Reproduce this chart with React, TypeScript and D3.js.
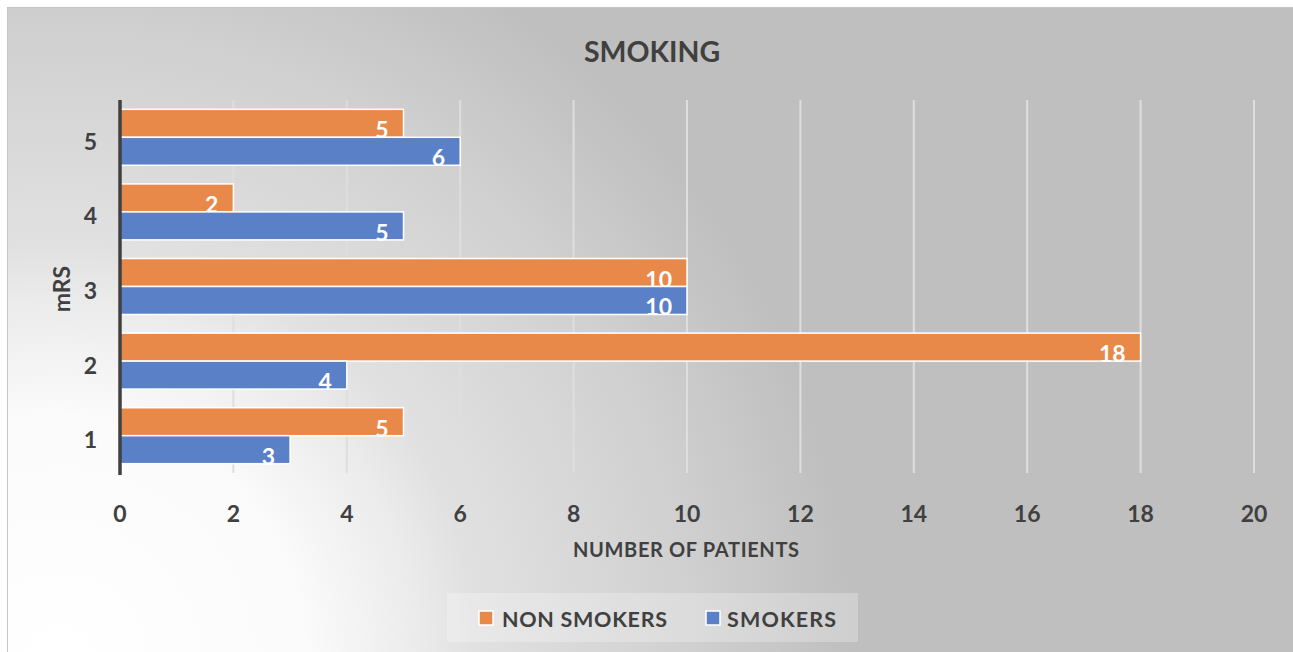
import React from "react";
import * as d3 from "d3";

const categories = ["5", "4", "3", "2", "1"];
const nonSmokers = [5, 2, 10, 18, 5];
const smokers = [6, 5, 10, 4, 3];
const xTicks = [0, 2, 4, 6, 8, 10, 12, 14, 16, 18, 20];
const seriesNames = ["NON SMOKERS", "SMOKERS"];
const seriesColors = ["#E8894A", "#5A80C7"];

const W = 1293;
const H = 652;
const FONT = "Lato, 'Open Sans', sans-serif";
const TEXT = "#404040";

export default function App() {
  const x = d3.scaleLinear().domain([0, 20]).range([120, 1254]);
  const y = d3.scaleBand().domain(categories).range([100, 473]).paddingInner(0.25).paddingOuter(0.125);
  const sub = d3.scaleBand().domain(seriesNames).range([0, y.bandwidth()]);
  const series = [nonSmokers, smokers];

  return (
    <div style={{ position: "absolute", left: 0, top: 0 }}>
      <svg width={W} height={H} style={{ display: "block" }} fontFamily={FONT}>
        <defs>
          <radialGradient id="bg" gradientUnits="userSpaceOnUse" cx={60} cy={660} r={900}>
            <stop offset="0" stopColor="#ffffff" />
            <stop offset="0.27" stopColor="#fbfbfb" />
            <stop offset="0.4" stopColor="#ebebeb" />
            <stop offset="0.46" stopColor="#e1e1e1" />
            <stop offset="0.7" stopColor="#d0d0d0" />
            <stop offset="0.88" stopColor="#bfbfbf" />
            <stop offset="1" stopColor="#bfbfbf" />
          </radialGradient>
        </defs>
        <rect x={0} y={0} width={W} height={H} fill="#ffffff" />
        <rect x={7.5} y={7.5} width={W} height={H} fill="url(#bg)" stroke="#c4c4c4" strokeWidth={1} />

        {/* title */}
        <text x={652} y={62} textAnchor="middle" fontSize={28.5} fontWeight={700} fill={TEXT}>SMOKING</text>

        {/* gridlines */}
        {xTicks.map((t) => (
          <line key={"g" + t} x1={x(t)} x2={x(t)} y1={100} y2={473} stroke="#dedede" strokeWidth={2} />
        ))}

        {/* bars */}
        {categories.map((c, i) =>
          series.map((s, j) => {
            const y0 = (y(c) as number) + (sub(seriesNames[j]) as number);
            const h = sub.bandwidth();
            return (
              <g key={c + j}>
                <rect x={x(0)} y={y0} width={x(s[i]) - x(0)} height={h} fill={seriesColors[j]} stroke="#ffffff" strokeWidth={1.5} />
                <text x={x(s[i]) - 15} y={y0 + h + 1} textAnchor="end" fontSize={23} fontWeight={700} fill="#ffffff">{s[i]}</text>
              </g>
            );
          })
        )}

        {/* axis line */}
        <line x1={120} x2={120} y1={100} y2={475} stroke="#404040" strokeWidth={3.5} />

        {/* y labels */}
        {categories.map((c) => (
          <text key={"y" + c} x={97} y={(y(c) as number) + y.bandwidth() / 2 + 12.5} textAnchor="end" fontSize={23} fontWeight={700} fill={TEXT}>{c}</text>
        ))}
        <text transform="translate(70,289) rotate(-90)" textAnchor="middle" fontSize={23} fontWeight={700} fill={TEXT}>mRS</text>

        {/* x labels */}
        {xTicks.map((t) => (
          <text key={"x" + t} x={x(t)} y={522} textAnchor="middle" fontSize={23} fontWeight={700} fill={TEXT}>{t}</text>
        ))}
        <text x={573} y={557} fontSize={20} fontWeight={700} fill={TEXT} textLength={226} lengthAdjust="spacing">NUMBER OF PATIENTS</text>

        {/* legend */}
        <rect x={447} y={593} width={411} height={49} fill="#ffffff" fillOpacity={0.25} />
        <rect x={479} y={611} width={14} height={14} fill={seriesColors[0]} stroke="#ffffff" strokeWidth={1.5} />
        <text x={502} y={627} fontSize={21.5} fontWeight={700} fill={TEXT} textLength={165} lengthAdjust="spacing">{seriesNames[0]}</text>
        <rect x={706} y={611} width={14} height={14} fill={seriesColors[1]} stroke="#ffffff" strokeWidth={1.5} />
        <text x={727} y={627} fontSize={21.5} fontWeight={700} fill={TEXT} textLength={109} lengthAdjust="spacing">{seriesNames[1]}</text>
      </svg>
    </div>
  );
}
